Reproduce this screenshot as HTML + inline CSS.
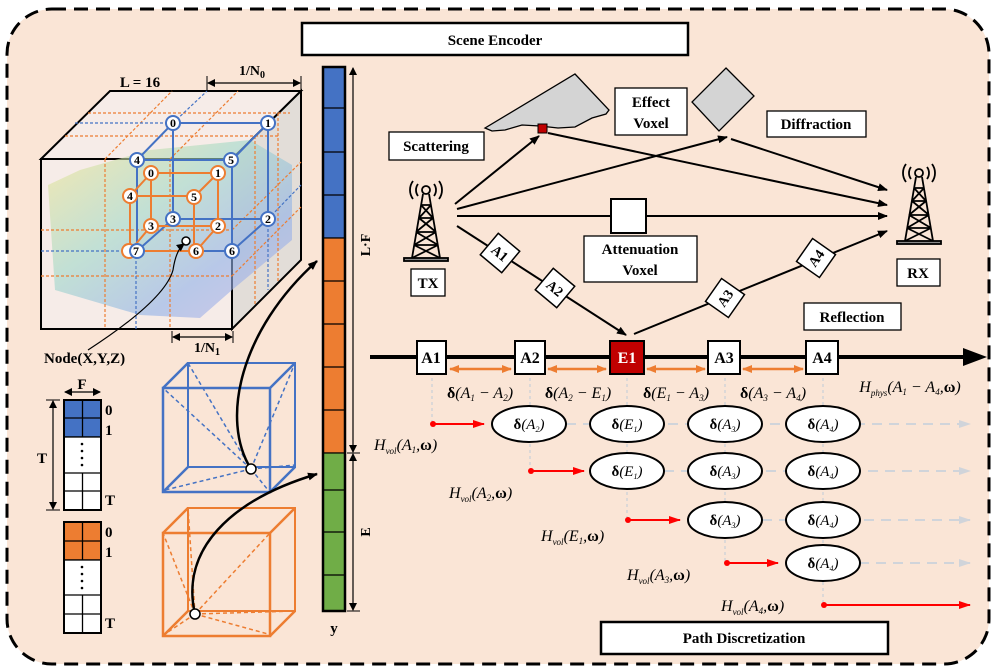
<!DOCTYPE html>
<html><head><meta charset="utf-8"><style>
html,body{margin:0;padding:0;background:#fff}
svg{display:block}
text{font-family:"Liberation Serif",serif;}
.b{font-weight:bold}
.i{font-style:italic}
</style></head><body>
<svg width="996" height="670" viewBox="0 0 996 670" xmlns="http://www.w3.org/2000/svg">
<defs>
<marker id="ah" markerWidth="10" markerHeight="8" refX="9" refY="4" orient="auto" markerUnits="userSpaceOnUse"><path d="M0,0 L10,4 L0,8 z" fill="#000"/></marker>
<marker id="ahr" markerWidth="12" markerHeight="8" refX="11" refY="4" orient="auto" markerUnits="userSpaceOnUse"><path d="M0,0 L12,4 L0,8 z" fill="#f00"/></marker>
<marker id="aho" markerWidth="10" markerHeight="8" refX="9" refY="4" orient="auto-start-reverse" markerUnits="userSpaceOnUse"><path d="M0,0 L10,4 L0,8 z" fill="#ed7d31"/></marker>
<marker id="ahg" markerWidth="12" markerHeight="8" refX="11" refY="4" orient="auto" markerUnits="userSpaceOnUse"><path d="M0,0 L12,4 L0,8 z" fill="#d0d4da"/></marker>
<marker id="ahd" markerWidth="8" markerHeight="8" refX="7" refY="4" orient="auto-start-reverse" markerUnits="userSpaceOnUse"><path d="M0,0 L8,4 L0,8 z" fill="#000"/></marker>
<linearGradient id="pc" x1="0" y1="0" x2="1" y2="1">
<stop offset="0" stop-color="#f5e68a"/><stop offset="0.4" stop-color="#9fd8c8"/><stop offset="0.7" stop-color="#8fb0e8"/><stop offset="1" stop-color="#b8b0e8"/></linearGradient>
<g id="tw" stroke="#000" stroke-width="1.8" fill="none">
<circle cx="0" cy="0" r="4"/>
<path d="M-8,-6 A10,10 0 0 0 -8,6 M8,-6 A10,10 0 0 1 8,6 M-13,-9 A15,15 0 0 0 -13,9 M13,-9 A15,15 0 0 1 13,9"/>
<path d="M-3,4 L-14,68 M3,4 L14,68 M-5,15 L5,15 M-7,28 L7,28 M-10,42 L10,42 M-12,55 L12,55 M-5,15 L7,28 M5,15 L-7,28 M-7,28 L10,42 M7,28 L-10,42 M-10,42 L12,55 M10,42 L-12,55 M-12,55 L14,68 M12,55 L-14,68"/>
<rect x="-22" y="68" width="44" height="3" fill="#888"/>
</g>
</defs>
<rect x="7" y="9" width="982" height="655" rx="45" fill="#fae5d6" stroke="#000" stroke-width="3" stroke-dasharray="14,8"/>

<rect x="302" y="23" width="386" height="32" fill="#fff" stroke="#000" stroke-width="2.5"/>
<text x="495" y="45" class="b" font-size="15" text-anchor="middle">Scene Encoder</text>

<!-- cube -->
<polygon points="41,159 110,91 301,91 232,159" fill="#f6ece8" stroke="#000" stroke-width="2"/>
<polygon points="232,159 301,91 301,260 232,329" fill="#e2ddd8" stroke="#000" stroke-width="2"/>
<rect x="41" y="159" width="191" height="170" fill="#f6ece8" stroke="#000" stroke-width="2"/>
<path d="M48,185 L80,170 L150,150 L250,140 L292,165 L292,240 L232,290 L200,318 L140,315 L55,290 Z" fill="url(#pc)" opacity="0.6"/>
<g stroke="#ed7d31" stroke-width="1.2" stroke-dasharray="3,2" fill="none">
<line x1="41" y1="230" x2="232" y2="230"/><line x1="41" y1="276" x2="232" y2="276"/>
<line x1="105" y1="159" x2="105" y2="329"/><line x1="170" y1="159" x2="170" y2="329"/>
<line x1="65" y1="136" x2="280" y2="136"/><line x1="88" y1="113" x2="290" y2="113"/>
<line x1="105" y1="159" x2="172" y2="91"/><line x1="170" y1="159" x2="238" y2="91"/>
<line x1="232" y1="230" x2="301" y2="162"/><line x1="232" y1="276" x2="301" y2="207"/>
<line x1="255" y1="136" x2="255" y2="306"/><line x1="278" y1="113" x2="278" y2="283"/>
</g>
<g stroke="#4472c4" stroke-width="1.2" stroke-dasharray="3,2"><line x1="136" y1="251" x2="136" y2="329"/><line x1="41" y1="251" x2="136" y2="251"/><line x1="268" y1="219" x2="301" y2="185"/><line x1="268" y1="219" x2="268" y2="290"/><line x1="75" y1="123" x2="173" y2="123"/><line x1="173" y1="123" x2="207" y2="91"/></g>
<g stroke="#4472c4" stroke-width="2" fill="none">
<rect x="173" y="123" width="95" height="96"/><rect x="137" y="160" width="95" height="91"/>
<line x1="173" y1="123" x2="137" y2="160"/><line x1="268" y1="123" x2="232" y2="160"/><line x1="173" y1="219" x2="137" y2="251"/><line x1="268" y1="219" x2="232" y2="251"/>
</g>
<g stroke="#ed7d31" stroke-width="2" fill="none">
<rect x="151" y="173" width="67" height="53"/><rect x="130" y="196" width="64" height="55"/>
<line x1="151" y1="173" x2="130" y2="196"/><line x1="218" y1="173" x2="194" y2="197"/><line x1="151" y1="226" x2="130" y2="251"/><line x1="218" y1="226" x2="196" y2="251"/>
</g>
<g font-size="12" class="b" text-anchor="middle">
<g fill="#fff" stroke="#ed7d31" stroke-width="2">
<circle cx="151" cy="173" r="7"/><circle cx="218" cy="173" r="7"/><circle cx="130" cy="196" r="7"/><circle cx="194" cy="197" r="7"/><circle cx="151" cy="226" r="7"/><circle cx="218" cy="226" r="7"/><circle cx="129" cy="251" r="7"/><circle cx="196" cy="251" r="7"/></g>
<g fill="#fff" stroke="#4472c4" stroke-width="2">
<circle cx="173" cy="123" r="7"/><circle cx="268" cy="123" r="7"/><circle cx="137" cy="160" r="7"/><circle cx="231" cy="160" r="7"/><circle cx="173" cy="219" r="7"/><circle cx="268" cy="219" r="7"/><circle cx="137" cy="251" r="7"/><circle cx="232" cy="251" r="7"/></g>
<text x="151" y="177">0</text><text x="218" y="177">1</text><text x="130" y="200">4</text><text x="194" y="201">5</text><text x="151" y="230">3</text><text x="218" y="230">2</text><text x="196" y="255">6</text>
<text x="173" y="127">0</text><text x="268" y="127">1</text><text x="137" y="164">4</text><text x="231" y="164">5</text><text x="173" y="223">3</text><text x="268" y="223">2</text><text x="136" y="255">7</text><text x="232" y="255">6</text>
</g>
<circle cx="186" cy="241" r="4" fill="#fff" stroke="#000" stroke-width="1.5"/>
<text x="140" y="87" class="b" font-size="15" text-anchor="middle">L = 16</text>
<line x1="208" y1="83" x2="300" y2="83" stroke="#000" stroke-width="1.3" marker-start="url(#ahd)" marker-end="url(#ahd)"/>
<line x1="207" y1="76" x2="207" y2="90" stroke="#000"/><line x1="301" y1="76" x2="301" y2="90" stroke="#000"/>
<text x="252" y="75" class="b" font-size="14" text-anchor="middle">1/N<tspan font-size="10" dy="3">0</tspan></text>
<line x1="173" y1="337" x2="232" y2="337" stroke="#000" stroke-width="1.3" marker-start="url(#ahd)" marker-end="url(#ahd)"/>
<line x1="172" y1="331" x2="172" y2="343" stroke="#000"/><line x1="233" y1="331" x2="233" y2="343" stroke="#000"/>
<text x="207" y="352" class="b" font-size="14" text-anchor="middle">1/N<tspan font-size="10" dy="3">1</tspan></text>
<path d="M88,350 Q165,300 173,270 Q176,250 184,244" fill="none" stroke="#000" stroke-width="1.2" marker-end="url(#ahd)"/>
<text x="44" y="363" class="b" font-size="15">Node(X,Y,Z)</text>

<!-- tables -->
<line x1="65" y1="392" x2="100" y2="392" stroke="#000" stroke-width="1.2" marker-start="url(#ahd)" marker-end="url(#ahd)"/>
<text x="82" y="389" class="b" font-size="15" text-anchor="middle">F</text>
<line x1="53" y1="401" x2="53" y2="509" stroke="#000" stroke-width="1.2" marker-start="url(#ahd)" marker-end="url(#ahd)"/>
<line x1="46" y1="400" x2="60" y2="400" stroke="#000"/><line x1="46" y1="510" x2="60" y2="510" stroke="#000"/>
<text x="42" y="463" class="b" font-size="15" text-anchor="middle">T</text>
<g stroke="#000" stroke-width="1.3">
<rect x="64" y="400" width="37" height="37" fill="#4472c4"/>
<rect x="64" y="437" width="37" height="73" fill="#fff"/>
<line x1="82.5" y1="400" x2="82.5" y2="437"/><line x1="64" y1="418" x2="101" y2="418"/>
<line x1="64" y1="473" x2="101" y2="473"/><line x1="64" y1="491" x2="101" y2="491"/><line x1="82.5" y1="473" x2="82.5" y2="510"/>
<rect x="64" y="522" width="37" height="38" fill="#ed7d31"/>
<rect x="64" y="560" width="37" height="73" fill="#fff"/>
<line x1="82.5" y1="522" x2="82.5" y2="560"/><line x1="64" y1="541" x2="101" y2="541"/>
<line x1="64" y1="595" x2="101" y2="595"/><line x1="64" y1="614" x2="101" y2="614"/><line x1="82.5" y1="595" x2="82.5" y2="633"/>
</g>
<rect x="64" y="400" width="37" height="110" fill="none" stroke="#000" stroke-width="2"/>
<rect x="64" y="522" width="37" height="111" fill="none" stroke="#000" stroke-width="2"/>
<g fill="#000"><circle cx="82" cy="444" r="1.3"/><circle cx="82" cy="451" r="1.3"/><circle cx="82" cy="458" r="1.3"/><circle cx="82" cy="465" r="1.3"/>
<circle cx="82" cy="567" r="1.3"/><circle cx="82" cy="574" r="1.3"/><circle cx="82" cy="581" r="1.3"/><circle cx="82" cy="588" r="1.3"/></g>
<g class="b" font-size="15"><text x="105" y="415">0</text><text x="105" y="435">1</text><text x="105" y="505">T</text>
<text x="105" y="537">0</text><text x="105" y="557">1</text><text x="105" y="628">T</text></g>

<!-- small cubes -->
<g stroke="#4472c4" stroke-width="2.5" fill="none">
<rect x="163" y="388" width="107" height="104"/><rect x="188" y="363" width="107" height="104" stroke-width="2"/>
<line x1="163" y1="388" x2="188" y2="363"/><line x1="270" y1="388" x2="295" y2="363"/><line x1="270" y1="492" x2="295" y2="467"/><line x1="163" y1="492" x2="188" y2="467"/>
</g>
<g stroke="#4472c4" stroke-width="1.5" stroke-dasharray="4,3"><line x1="251" y1="469" x2="163" y2="388"/><line x1="251" y1="469" x2="188" y2="363"/><line x1="251" y1="469" x2="295" y2="363"/><line x1="251" y1="469" x2="165" y2="490"/><line x1="251" y1="469" x2="295" y2="465"/><line x1="251" y1="469" x2="268" y2="490"/></g>
<g stroke="#ed7d31" stroke-width="2.5" fill="none">
<rect x="163" y="533" width="107" height="103"/><rect x="188" y="508" width="107" height="103" stroke-width="2"/>
<line x1="163" y1="533" x2="188" y2="508"/><line x1="270" y1="533" x2="295" y2="508"/><line x1="270" y1="636" x2="295" y2="611"/><line x1="163" y1="636" x2="188" y2="611"/>
</g>
<g stroke="#ed7d31" stroke-width="1.5" stroke-dasharray="4,3"><line x1="195" y1="614" x2="163" y2="533"/><line x1="195" y1="614" x2="188" y2="508"/><line x1="195" y1="614" x2="270" y2="533"/><line x1="195" y1="614" x2="295" y2="611"/><line x1="195" y1="614" x2="268" y2="634"/><line x1="195" y1="614" x2="165" y2="634"/></g>
<path d="M251,469 C220,420 240,330 317,261" fill="none" stroke="#000" stroke-width="2.5" marker-end="url(#ah)"/>
<path d="M195,614 C180,550 230,500 317,474" fill="none" stroke="#000" stroke-width="2.5" marker-end="url(#ah)"/>
<circle cx="251" cy="469" r="5" fill="#fff" stroke="#000" stroke-width="1.5"/>
<circle cx="195" cy="614" r="5" fill="#fff" stroke="#000" stroke-width="1.5"/>

<!-- column y -->
<g stroke="#000" stroke-width="1.2">
<rect x="323" y="67" width="22" height="171" fill="#4472c4"/>
<rect x="323" y="238" width="22" height="215" fill="#ed7d31"/>
<rect x="323" y="453" width="22" height="158" fill="#70ad47"/>
<line x1="323" y1="108" x2="345" y2="108"/><line x1="323" y1="152" x2="345" y2="152"/><line x1="323" y1="195" x2="345" y2="195"/>
<line x1="323" y1="281" x2="345" y2="281"/><line x1="323" y1="324" x2="345" y2="324"/><line x1="323" y1="367" x2="345" y2="367"/><line x1="323" y1="410" x2="345" y2="410"/>
<line x1="323" y1="490" x2="345" y2="490"/><line x1="323" y1="532" x2="345" y2="532"/><line x1="323" y1="575" x2="345" y2="575"/>
</g>
<rect x="323" y="67" width="22" height="544" fill="none" stroke="#000" stroke-width="2.5"/>
<line x1="353" y1="68" x2="353" y2="452" stroke="#000" stroke-width="1.2" marker-start="url(#ahd)" marker-end="url(#ahd)"/>
<line x1="353" y1="454" x2="353" y2="610" stroke="#000" stroke-width="1.2" marker-start="url(#ahd)" marker-end="url(#ahd)"/>
<line x1="347" y1="453" x2="360" y2="453" stroke="#000"/><line x1="347" y1="611" x2="360" y2="611" stroke="#000"/>
<text transform="translate(370,245) rotate(-90)" class="b" font-size="14" text-anchor="middle">L·F</text>
<text transform="translate(370,532) rotate(-90)" class="b" font-size="14" text-anchor="middle">E</text>
<text x="334" y="633" class="b" font-size="15" text-anchor="middle">y</text>

<!-- scene -->
<path d="M485,128 L575,74 L609,110 L606,114 L592,118 L575,127 L558,128 L540,126 L522,125 L505,130 L492,131 Z" fill="#d4d4d4" stroke="#000" stroke-width="1.3"/>
<polygon points="726,68 754,96 719,131 692,102" fill="#d4d4d4" stroke="#000" stroke-width="1.3"/>
<g stroke="#000" stroke-width="2" fill="none" marker-end="url(#ah)">
<line x1="455" y1="204" x2="539" y2="136"/>
<line x1="548" y1="133" x2="887" y2="205"/>
<line x1="457" y1="209" x2="727" y2="137"/>
<line x1="731" y1="139" x2="887" y2="190"/>
<line x1="457" y1="216" x2="887" y2="216"/>
<line x1="457" y1="226" x2="626" y2="335"/>
<line x1="634" y1="334" x2="887" y2="231"/>
</g>
<rect x="538" y="124" width="9" height="9" fill="#c00000" stroke="#000"/>
<rect x="611" y="199" width="35" height="34" fill="#fff" stroke="#000" stroke-width="2"/>
<g class="b" font-size="14" text-anchor="middle">
<g transform="translate(500,253) rotate(40)"><rect x="-14" y="-14" width="28" height="28" fill="#fff" stroke="#000" stroke-width="1.5"/><text y="5">A1</text></g>
<g transform="translate(555,288) rotate(40)"><rect x="-14" y="-14" width="28" height="28" fill="#fff" stroke="#000" stroke-width="1.5"/><text y="5">A2</text></g>
<g transform="translate(725,298) rotate(-55)"><rect x="-14" y="-14" width="28" height="28" fill="#fff" stroke="#000" stroke-width="1.5"/><text y="5">A3</text></g>
<g transform="translate(816,258) rotate(-55)"><rect x="-14" y="-14" width="28" height="28" fill="#fff" stroke="#000" stroke-width="1.5"/><text y="5">A4</text></g>
</g>
<g fill="#fff" stroke="#000" stroke-width="1.3">
<rect x="389" y="132" width="95" height="28"/><rect x="615" y="88" width="72" height="47"/><rect x="767" y="111" width="99" height="26"/>
<rect x="584" y="236" width="113" height="46"/><rect x="804" y="303" width="97" height="27"/>
<rect x="411" y="269" width="34" height="27"/><rect x="897" y="259" width="43" height="27"/>
</g>
<g class="b" font-size="15" text-anchor="middle">
<text x="436" y="151">Scattering</text><text x="651" y="107">Effect</text><text x="651" y="128">Voxel</text><text x="816" y="129">Diffraction</text>
<text x="640" y="254">Attenuation</text><text x="640" y="275">Voxel</text><text x="852" y="322">Reflection</text>
<text x="428" y="288">TX</text><text x="918" y="278">RX</text>
</g>
<use href="#tw" x="426" y="190"/>
<use href="#tw" x="919" y="173"/>

<!-- timeline -->
<line x1="370" y1="357" x2="968" y2="357" stroke="#000" stroke-width="4"/>
<path d="M963,348 L987,357 L963,366 Z" fill="#000"/>
<g stroke="#ccd1d8" stroke-width="1.3" stroke-dasharray="3,3">
<line x1="432" y1="372" x2="432" y2="424"/><line x1="530" y1="372" x2="530" y2="471"/><line x1="627" y1="372" x2="627" y2="520"/><line x1="725" y1="372" x2="725" y2="563"/><line x1="823" y1="372" x2="823" y2="605"/>
</g>
<g stroke="#d0d4da" stroke-width="2" stroke-dasharray="10,7" marker-end="url(#ahg)">
<line x1="566" y1="424" x2="970" y2="424"/><line x1="664" y1="471" x2="970" y2="471"/><line x1="762" y1="520" x2="970" y2="520"/><line x1="859" y1="563" x2="970" y2="563"/>
</g>
<g stroke="#ed7d31" stroke-width="2.5" marker-start="url(#aho)" marker-end="url(#aho)">
<line x1="450" y1="369" x2="511" y2="369"/><line x1="548" y1="369" x2="606" y2="369"/><line x1="647" y1="369" x2="705" y2="369"/><line x1="743" y1="369" x2="803" y2="369"/>
</g>
<g stroke="#000" stroke-width="2">
<rect x="417" y="341" width="29" height="33" fill="#fff"/><rect x="515" y="341" width="30" height="33" fill="#fff"/><rect x="610" y="341" width="34" height="33" fill="#c00000"/><rect x="708" y="341" width="32" height="33" fill="#fff"/><rect x="806" y="341" width="32" height="33" fill="#fff"/>
</g>
<g class="b" font-size="16" text-anchor="middle"><text x="431" y="363">A1</text><text x="530" y="363">A2</text><text x="627" y="363" fill="#fff">E1</text><text x="724" y="363">A3</text><text x="822" y="363">A4</text></g>
<g font-size="16" class="i">
<text x="480" y="398" text-anchor="middle"><tspan class="b" font-style="normal">δ</tspan>(A<tspan font-size="9" dy="3">1</tspan><tspan dy="-3"> − A</tspan><tspan font-size="9" dy="3">2</tspan><tspan dy="-3">)</tspan></text>
<text x="578" y="398" text-anchor="middle"><tspan class="b" font-style="normal">δ</tspan>(A<tspan font-size="9" dy="3">2</tspan><tspan dy="-3"> − E</tspan><tspan font-size="9" dy="3">1</tspan><tspan dy="-3">)</tspan></text>
<text x="676" y="398" text-anchor="middle"><tspan class="b" font-style="normal">δ</tspan>(E<tspan font-size="9" dy="3">1</tspan><tspan dy="-3"> − A</tspan><tspan font-size="9" dy="3">3</tspan><tspan dy="-3">)</tspan></text>
<text x="773" y="398" text-anchor="middle"><tspan class="b" font-style="normal">δ</tspan>(A<tspan font-size="9" dy="3">3</tspan><tspan dy="-3"> − A</tspan><tspan font-size="9" dy="3">4</tspan><tspan dy="-3">)</tspan></text>
<text x="910" y="392" text-anchor="middle">H<tspan font-size="9" dy="4">phys</tspan><tspan dy="-4">(A</tspan><tspan font-size="9" dy="3">1</tspan><tspan dy="-3"> − A</tspan><tspan font-size="9" dy="3">4</tspan><tspan dy="-3">,</tspan><tspan class="b" font-style="normal">ω</tspan>)</text>
</g>
<g fill="#fff" stroke="#000" stroke-width="2">
<ellipse cx="529" cy="424" rx="37" ry="18"/><ellipse cx="627" cy="424" rx="37" ry="18"/><ellipse cx="725" cy="424" rx="37" ry="18"/><ellipse cx="823" cy="424" rx="37" ry="18"/>
<ellipse cx="627" cy="471" rx="37" ry="18"/><ellipse cx="725" cy="471" rx="37" ry="18"/><ellipse cx="823" cy="471" rx="37" ry="18"/>
<ellipse cx="725" cy="520" rx="37" ry="18"/><ellipse cx="823" cy="520" rx="37" ry="18"/>
<ellipse cx="823" cy="563" rx="37" ry="18"/>
</g>
<g font-size="15" class="i" text-anchor="middle">
<text x="529" y="429"><tspan class="b" font-style="normal">δ</tspan>(A<tspan font-size="8" dy="3">2</tspan><tspan dy="-3">)</tspan></text>
<text x="627" y="429"><tspan class="b" font-style="normal">δ</tspan>(E<tspan font-size="8" dy="3">1</tspan><tspan dy="-3">)</tspan></text>
<text x="725" y="429"><tspan class="b" font-style="normal">δ</tspan>(A<tspan font-size="8" dy="3">3</tspan><tspan dy="-3">)</tspan></text>
<text x="823" y="429"><tspan class="b" font-style="normal">δ</tspan>(A<tspan font-size="8" dy="3">4</tspan><tspan dy="-3">)</tspan></text>
<text x="627" y="476"><tspan class="b" font-style="normal">δ</tspan>(E<tspan font-size="8" dy="3">1</tspan><tspan dy="-3">)</tspan></text>
<text x="725" y="476"><tspan class="b" font-style="normal">δ</tspan>(A<tspan font-size="8" dy="3">3</tspan><tspan dy="-3">)</tspan></text>
<text x="823" y="476"><tspan class="b" font-style="normal">δ</tspan>(A<tspan font-size="8" dy="3">4</tspan><tspan dy="-3">)</tspan></text>
<text x="725" y="525"><tspan class="b" font-style="normal">δ</tspan>(A<tspan font-size="8" dy="3">3</tspan><tspan dy="-3">)</tspan></text>
<text x="823" y="525"><tspan class="b" font-style="normal">δ</tspan>(A<tspan font-size="8" dy="3">4</tspan><tspan dy="-3">)</tspan></text>
<text x="823" y="568"><tspan class="b" font-style="normal">δ</tspan>(A<tspan font-size="8" dy="3">4</tspan><tspan dy="-3">)</tspan></text>
</g>
<g stroke="#f00" stroke-width="2" marker-end="url(#ahr)">
<line x1="433" y1="424" x2="484" y2="424"/><line x1="531" y1="471" x2="584" y2="471"/><line x1="628" y1="520" x2="680" y2="520"/><line x1="727" y1="563" x2="778" y2="563"/><line x1="824" y1="605" x2="970" y2="605"/>
</g>
<g fill="#f00"><circle cx="433" cy="424" r="3"/><circle cx="531" cy="471" r="3"/><circle cx="628" cy="520" r="3"/><circle cx="727" cy="563" r="3"/><circle cx="824" cy="605" r="3"/></g>
<g font-size="16" class="i">
<text x="374" y="450">H<tspan font-size="9" dy="4">vol</tspan><tspan dy="-4">(A</tspan><tspan font-size="9" dy="3">1</tspan><tspan dy="-3">,</tspan><tspan class="b" font-style="normal">ω</tspan>)</text>
<text x="449" y="498">H<tspan font-size="9" dy="4">vol</tspan><tspan dy="-4">(A</tspan><tspan font-size="9" dy="3">2</tspan><tspan dy="-3">,</tspan><tspan class="b" font-style="normal">ω</tspan>)</text>
<text x="541" y="541">H<tspan font-size="9" dy="4">vol</tspan><tspan dy="-4">(E</tspan><tspan font-size="9" dy="3">1</tspan><tspan dy="-3">,</tspan><tspan class="b" font-style="normal">ω</tspan>)</text>
<text x="627" y="580">H<tspan font-size="9" dy="4">vol</tspan><tspan dy="-4">(A</tspan><tspan font-size="9" dy="3">3</tspan><tspan dy="-3">,</tspan><tspan class="b" font-style="normal">ω</tspan>)</text>
<text x="721" y="611">H<tspan font-size="9" dy="4">vol</tspan><tspan dy="-4">(A</tspan><tspan font-size="9" dy="3">4</tspan><tspan dy="-3">,</tspan><tspan class="b" font-style="normal">ω</tspan>)</text>
</g>
<rect x="601" y="622" width="287" height="32" fill="#fff" stroke="#000" stroke-width="2.5"/>
<text x="744" y="643" class="b" font-size="15" text-anchor="middle">Path Discretization</text>
</svg>
</body></html>
